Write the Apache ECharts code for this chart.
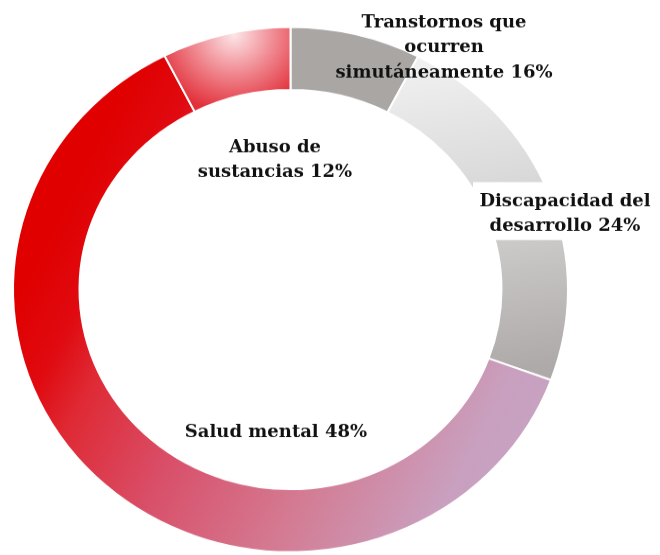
<!DOCTYPE html>
<html>
<head>
    <meta charset="utf-8"/>
    <script src="https://cdn.jsdelivr.net/npm/echarts@6/dist/echarts.min.js"></script>
    <style>
        html, body {
            margin: 0;
            padding: 0;
            background: #fff;
            overflow: hidden;
        }
        /* the ring in the picture is a little flatter than a circle */
        #main {
            width: 660px;
            height: 587px;
            transform: scaleY(0.946);
            transform-origin: 0 0;
        }
    </style>
</head>
<body>
<div id="main"></div>
<script>
    // slices as drawn, clockwise from 12 o'clock (share of the ring, %)
    var sliceNames = ['Transtornos que ocurren simutáneamente', 'Discapacidad del desarrollo', 'Salud mental', 'Abuso de sustancias'];
    var sliceValues = [7.6, 23.0, 61.9, 7.5];

    // label texts printed on the picture
    var labelLines = [
        ['Transtornos que', 'ocurren', 'simutáneamente 16%'],
        ['Discapacidad del', 'desarrollo 24%'],
        ['Salud mental 48%'],
        ['Abuso de', 'sustancias 12%']
    ];

    var SY = 0.946;

    // slice fills
    var fills = [
        '#aaa6a4',
        {
            type: 'linear', x: 0, y: 0, x2: 0.3, y2: 1,
            colorStops: [
                {offset: 0, color: '#f3f3f3'},
                {offset: 0.4, color: '#dcdbdb'},
                {offset: 1, color: '#aeaaa9'}
            ]
        },
        {
            type: 'linear', x: 0, y: 0.5, x2: 1, y2: 1,
            colorStops: [
                {offset: 0, color: '#e00000'},
                {offset: 0.1, color: '#e00a10'},
                {offset: 0.18, color: '#df2a35'},
                {offset: 0.36, color: '#d9506a'},
                {offset: 0.58, color: '#d47b93'},
                {offset: 0.8, color: '#c9a0bf'},
                {offset: 1, color: '#c6a6c6'}
            ]
        },
        {
            type: 'radial', x: 0.55, y: 0.1, r: 0.9,
            colorStops: [
                {offset: 0, color: '#fce6e8'},
                {offset: 0.5, color: '#f08890'},
                {offset: 1, color: '#e2303a'}
            ]
        }
    ];

    var pieData = sliceValues.map(function (v, i) {
        return {name: sliceNames[i], value: v, itemStyle: {color: fills[i]}};
    });

    // label anchors on screen: centre x, top of first line
    var labelAt = [[444, 10], [565, 189], [276, 420], [275, 135]];

    var graphics = [{
        // white box behind the right label
        type: 'rect',
        z: 100,
        shape: {x: 473, y: 182 / SY, width: 190, height: 58 / SY},
        style: {fill: '#fff'}
    }];
    labelLines.forEach(function (lines, i) {
        graphics.push({
            type: 'text',
            z: 101,
            x: labelAt[i][0],
            y: labelAt[i][1] / SY,
            scaleY: 1 / SY,
            style: {
                text: lines.join('\n'),
                fill: '#111',
                font: 'bold 18px "DejaVu Serif"',
                align: 'center',
                verticalAlign: 'top',
                textAlign: 'center',
                textVerticalAlign: 'top',
                lineHeight: 25
            }
        });
    });

    var myChart = echarts.init(document.getElementById('main'));
    myChart.setOption({
        animation: false,
        series: [{
            type: 'pie',
            center: [290.5, 306.1],
            radius: [211, 277.5],
            startAngle: 90,
            clockwise: true,
            label: {show: false},
            labelLine: {show: false},
            emphasis: {disabled: true},
            itemStyle: {borderColor: '#fff', borderWidth: 2},
            data: pieData
        }],
        graphic: graphics
    });
</script>
</body>
</html>
